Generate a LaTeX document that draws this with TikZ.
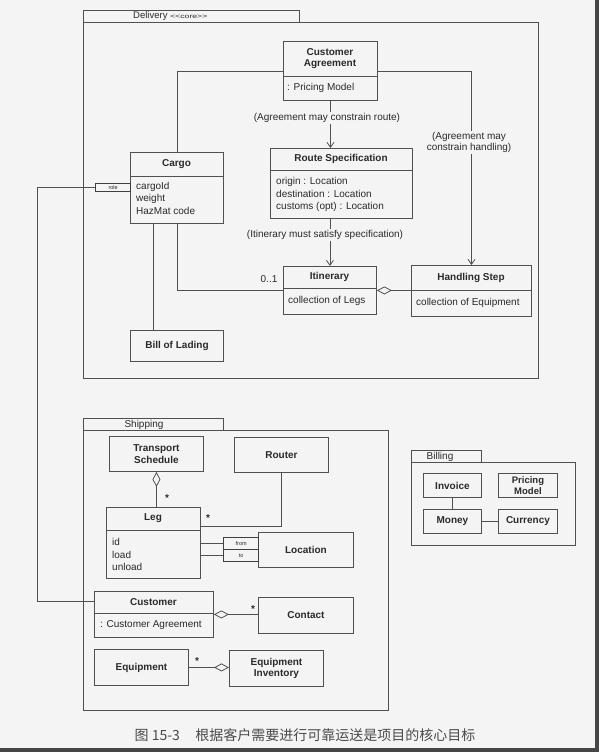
\documentclass[tikz,border=0pt]{standalone}
\usepackage{fontspec}
\usepackage{graphicx}
\setmainfont{Liberation Sans}
\newfontfamily\cjk{Noto Sans CJK SC}
\usetikzlibrary{arrows.meta,calc}
\definecolor{bg}{HTML}{F4F4F4}
\definecolor{ln}{HTML}{505050}
\definecolor{tx}{HTML}{2A2A2A}
\begin{document}
\begin{tikzpicture}[x=1pt,y=-1pt,
  box/.style={draw=ln, line width=0.9pt, fill=bg, inner sep=0pt, anchor=north west},
  qbox/.style={box, line width=1.3pt, draw=ln!80!black},
  sz/.style 2 args={minimum width=#1pt, minimum height=#2pt},
  pkg/.style={draw=ln, line width=0.9pt, inner sep=0pt, anchor=north west},
  ttl/.style={font=\fontsize{10}{11.5}\selectfont\bfseries, text=tx, align=center, inner sep=0pt},
  att/.style={font=\fontsize{10}{12.5}\selectfont, text=tx, align=left, inner sep=0pt, anchor=west},
  lbl/.style={font=\fontsize{10}{11}\selectfont, text=tx, align=center, inner sep=1pt, fill=bg},
  mult/.style={font=\fontsize{10}{10}\selectfont\bfseries, text=tx, inner sep=0pt},
  tiny/.style={font=\fontsize{5.5}{5.5}\selectfont, text=tx, inner sep=0pt},
  conn/.style={draw=ln, line width=0.8pt},
  arr/.style={conn, -{Straight Barb[length=5pt,width=7pt]}},
  dia/.style={conn, {Diamond[open,length=15pt,width=8pt]}-},
  diaend/.style={conn, -{Diamond[open,length=15pt,width=8pt]}},
]
\useasboundingbox (0,0) rectangle (599,752);
\fill[bg] (0,0) rectangle (599,752);
\fill[gray!55!black] (595,0) rectangle (599,752);
\fill[gray!55!black] (0,748) rectangle (599,752);

% ---------- packages ----------
\node[pkg, sz={216}{12}] (dtab) at (83,10) {};
\node[pkg, sz={455}{356}] (dpkg) at (83,22) {};
\node[anchor=west, inner sep=0pt, text=tx] (dname) at (133,16.5)
  {\fontsize{9.5}{9.5}\selectfont Delivery \scalebox{1.45}[1]{\fontsize{6}{6}\selectfont<{}<core>{}>}};

\node[pkg, sz={140}{12}] (stab) at (83,418) {};
\node[pkg, sz={305}{280}] (spkg) at (83,430) {};
\node[inner sep=0pt, text=tx, font=\fontsize{10}{10}\selectfont] (sname) at (144,424.5) {Shipping};

\node[pkg, sz={70}{12}] (btab) at (411,450) {};
\node[pkg, sz={164}{83}] (bpkg) at (411,462) {};
\node[inner sep=0pt, text=tx, font=\fontsize{10}{10}\selectfont] (bname) at (440,456.5) {Billing};

% ---------- Delivery classes ----------
\node[box, sz={94}{59}] (ca) at (283,41) {};
\draw[conn] ([yshift=-35pt]ca.north west) -- ([yshift=-35pt]ca.north east);
\node[ttl] (caT) at (330,58.5) {Customer\\Agreement};
\node[att] (caA) at (287,88) {: Pricing Model};

\node[box, sz={142}{70}] (rs) at (270,148) {};
\draw[conn] ([yshift=-22pt]rs.north west) -- ([yshift=-22pt]rs.north east);
\node[ttl] (rsT) at (341,159) {Route Specification};
\node[att] (rsA) at (276,194.5) {origin : Location\\destination : Location\\customs (opt) : Location};

\node[box, sz={93}{48}] (itin) at (283,266) {};
\draw[conn] ([yshift=-22pt]itin.north west) -- ([yshift=-22pt]itin.north east);
\node[ttl] (itT) at (329.5,277) {Itinerary};
\node[att] (itA) at (288,300.5) {collection of Legs};

\node[box, sz={120}{51}] (hs) at (411,265) {};
\node[ttl] (hsT) at (471,278) {Handling Step};
\draw[conn] ([yshift=-25pt]hs.north west) -- ([yshift=-25pt]hs.north east);
\node[att] (hsA) at (416,303) {collection of Equipment};

\node[box, sz={93}{71}] (cargo) at (130,152) {};
\draw[conn] ([yshift=-24pt]cargo.north west) -- ([yshift=-24pt]cargo.north east);
\node[ttl] (cgT) at (176.5,164) {Cargo};
\node[att] (cgA) at (136,198) {cargoId\\weight\\HazMat code};
\node[qbox, sz={35}{8}] (role) at (95,183) {};
\node[tiny] (roleT) at (role.center) {role};

\node[box, sz={93}{31}] (bol) at (130,330) {};
\node[ttl] (bolT) at (bol.center) {Bill of Lading};

% ---------- Delivery connectors ----------
\draw[conn] (ca.west) -| (cargo.north);
\draw[conn] (cargo.south) |- (itin.west);
\draw[conn] ([xshift=-23.5pt]cargo.south) -- ([xshift=-23.5pt]bol.north);
\draw[arr] (ca.east) -| (hs.north);
\draw[arr] (ca.south) -- (ca.south |- rs.north);
\draw[arr] (rs.south -| itin.north) -- (itin.north);
\draw[dia] (itin.east) -- (itin.east -| hs.west);
\node[lbl] (lr) at (327,118) {(Agreement may constrain route)};
\node[lbl] (lh) at (469,142.5) {(Agreement may\\constrain handling)};
\node[lbl] (li) at (325,235) {(Itinerary must satisfy specification)};
\node[inner sep=0pt, text=tx, font=\fontsize{10}{10}\selectfont] (m01) at (269,279.5) {0..1};

% ---------- Shipping classes ----------
\node[box, sz={94}{35}] (ts) at (109,436) {};
\node[ttl] (tsT) at (ts.center) {Transport\\Schedule};
\node[box, sz={94}{35}] (router) at (234,437) {};
\node[ttl] (roT) at (router.center) {Router};

\node[box, sz={94}{71}] (leg) at (106,507) {};
\draw[conn] ([yshift=-23pt]leg.north west) -- ([yshift=-23pt]leg.north east);
\node[ttl] (lgT) at (153,518.5) {Leg};
\node[att] (lgA) at (112,554.5) {id\\load\\unload};

\node[box, sz={95}{35}] (loc) at (258,532) {};
\node[ttl] (locT) at (loc.center) {Location};
\node[qbox, sz={35}{12}] (from) at (223,537) {};
\node[tiny] (fromT) at (from.center) {from};
\node[qbox, sz={35}{12}] (to) at (223,549) {};
\node[tiny] (toT) at (to.center) {to};

\node[box, sz={119}{46}] (cust) at (94,591) {};
\draw[conn] ([yshift=-22pt]cust.north west) -- ([yshift=-22pt]cust.north east);
\node[ttl] (cuT) at (153.5,602.5) {Customer};
\node[att] (cuA) at (100,625.5) {: Customer Agreement};

\node[box, sz={95}{36}] (contact) at (258,597) {};
\node[ttl] (coT) at (contact.center) {Contact};
\node[box, sz={94}{36}] (equip) at (94,649) {};
\node[ttl] (eqT) at (equip.center) {Equipment};
\node[box, sz={94}{36}] (einv) at (229,650) {};
\node[ttl] (eiT) at (einv.center) {Equipment\\Inventory};

% ---------- Shipping connectors ----------
\draw[dia] (ts.south) -- (ts.south |- leg.north);
\node[mult] (m1) at (167,498) {*};
\draw[conn] (router.south) |- ([yshift=16.5pt]leg.east);
\node[mult] (m2) at (208,518) {*};
\draw[conn] (leg.east) -- (leg.east -| from.west);
\draw[conn] (to.west -| leg.east) -- (to.west);
\draw[dia] (cust.east) -- (cust.east -| contact.west);
\node[mult] (m3) at (253,609) {*};
\draw[diaend] (equip.east) -- (equip.east -| einv.west);
\node[mult] (m4) at (197,661) {*};
\draw[conn] (role.west) -- ++(-58,0) |- ([yshift=13pt]cust.west);

% ---------- Billing ----------
\node[box, sz={58}{24}] (inv) at (423,473) {};
\node[ttl] (invT) at (inv.center) {Invoice};
\node[box, sz={59}{24}] (pm) at (498,473) {};
\node[ttl, font=\fontsize{9.5}{10.5}\selectfont\bfseries] (pmT) at (pm.center) {Pricing\\Model};
\node[box, sz={58}{24}] (money) at (423,509) {};
\node[ttl] (moT) at (money.center) {Money};
\node[box, sz={59}{24}] (curr) at (498,509) {};
\node[ttl] (cuRT) at (curr.center) {Currency};
\draw[conn] (inv.south) -- (money.north);
\draw[conn] (money.east) -- (curr.west);

% ---------- caption ----------
\node[inner sep=0pt, text=tx!85, font=\cjk\fontsize{14}{14}\selectfont] (cap) at (305,735)
  {图 15-3\hspace{1.1em}根据客户需要进行可靠运送是项目的核心目标};
\end{tikzpicture}
\end{document}
